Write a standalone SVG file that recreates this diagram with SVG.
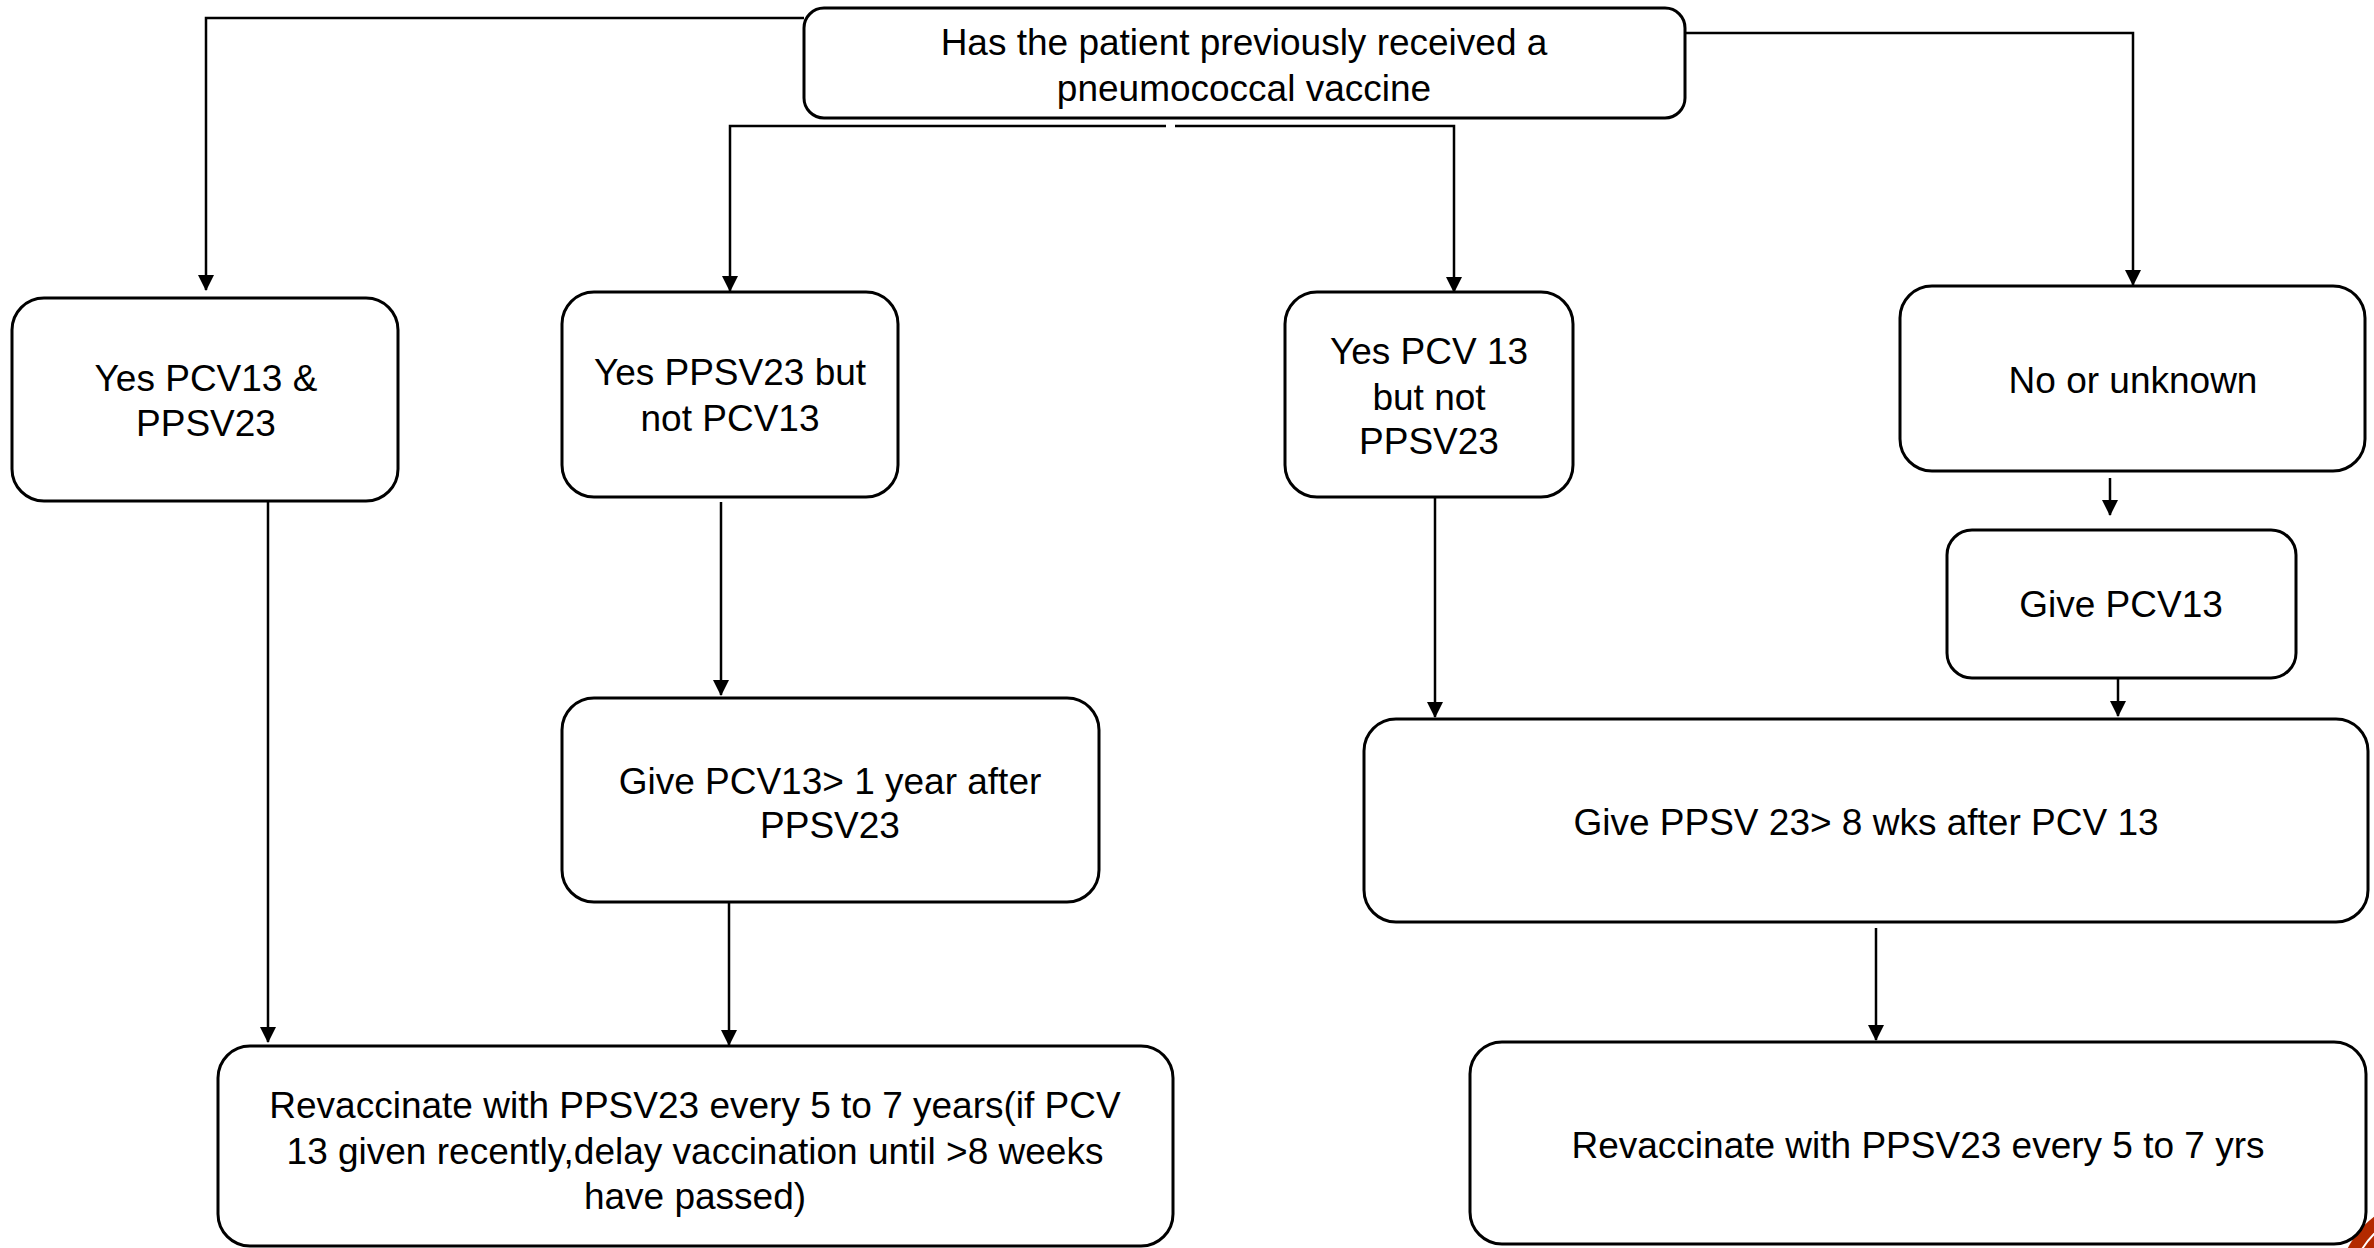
<svg xmlns="http://www.w3.org/2000/svg" width="2374" height="1248" viewBox="0 0 2374 1248">
<style>
.box{fill:#fff;stroke:#000;stroke-width:3}
.t{font-family:"Liberation Sans",Arial,sans-serif;font-size:37px;fill:#000;text-anchor:middle}
.c{fill:none;stroke:#000;stroke-width:2.5}
</style>
<defs>
<marker id="ah" markerWidth="16" markerHeight="16" refX="15" refY="8" orient="auto" markerUnits="userSpaceOnUse" viewBox="0 0 16 16">
<path d="M0,0 L16,8 L0,16 Z" fill="#000"/>
</marker>
</defs>
<rect width="2374" height="1248" fill="#fff"/>
<g id="decor">
<circle cx="2432" cy="1292" r="95" fill="#B32A00"/>
<circle cx="2432" cy="1292" r="82" fill="none" stroke="#fff" stroke-width="2"/>
</g>
<g id="connectors">
<polyline class="c" points="804,18 206,18 206,290" marker-end="url(#ah)"/>
<polyline class="c" points="1685,33 2133,33 2133,285" marker-end="url(#ah)"/>
<polyline class="c" points="1166,126 730,126 730,291" marker-end="url(#ah)"/>
<polyline class="c" points="1175,126 1454,126 1454,292" marker-end="url(#ah)"/>
<line class="c" x1="268" y1="501" x2="268" y2="1042" marker-end="url(#ah)"/>
<line class="c" x1="721" y1="502" x2="721" y2="695" marker-end="url(#ah)"/>
<line class="c" x1="729" y1="893" x2="729" y2="1045" marker-end="url(#ah)"/>
<line class="c" x1="1435" y1="497" x2="1435" y2="717" marker-end="url(#ah)"/>
<line class="c" x1="2110" y1="478" x2="2110" y2="515" marker-end="url(#ah)"/>
<line class="c" x1="2118" y1="678" x2="2118" y2="716" marker-end="url(#ah)"/>
<line class="c" x1="1876" y1="928" x2="1876" y2="1040" marker-end="url(#ah)"/>
</g>
<g id="n-top">
<rect class="box" x="804" y="8" width="881" height="110" rx="20"/>
<text class="t" x="1244" y="55">Has the patient previously received a</text>
<text class="t" x="1244" y="101">pneumococcal vaccine</text>
</g>
<g id="n-a">
<rect class="box" x="12" y="298" width="386" height="203" rx="32"/>
<text class="t" x="206" y="391">Yes PCV13 &amp;</text>
<text class="t" x="206" y="436">PPSV23</text>
</g>
<g id="n-b">
<rect class="box" x="562" y="292" width="336" height="205" rx="32"/>
<text class="t" x="730" y="385">Yes PPSV23 but</text>
<text class="t" x="730" y="431">not PCV13</text>
</g>
<g id="n-c">
<rect class="box" x="1285" y="292" width="288" height="205" rx="32"/>
<text class="t" x="1429" y="364">Yes PCV 13</text>
<text class="t" x="1429" y="410">but not</text>
<text class="t" x="1429" y="454">PPSV23</text>
</g>
<g id="n-d">
<rect class="box" x="1900" y="286" width="465" height="185" rx="32"/>
<text class="t" x="2133" y="393">No or unknown</text>
</g>
<g id="n-e">
<rect class="box" x="1947" y="530" width="349" height="148" rx="25"/>
<text class="t" x="2121" y="617">Give PCV13</text>
</g>
<g id="n-f">
<rect class="box" x="1364" y="719" width="1004" height="203" rx="32"/>
<text class="t" x="1866" y="835">Give PPSV 23&gt; 8 wks after PCV 13</text>
</g>
<g id="n-g">
<rect class="box" x="562" y="698" width="537" height="204" rx="32"/>
<text class="t" x="830" y="794">Give PCV13&gt; 1 year after</text>
<text class="t" x="830" y="838">PPSV23</text>
</g>
<g id="n-h">
<rect class="box" x="218" y="1046" width="955" height="200" rx="32"/>
<text class="t" x="695" y="1118">Revaccinate with PPSV23 every 5 to 7 years(if PCV</text>
<text class="t" x="695" y="1164">13 given recently,delay vaccination until &gt;8 weeks</text>
<text class="t" x="695" y="1209">have passed)</text>
</g>
<g id="n-i">
<rect class="box" x="1470" y="1042" width="896" height="202" rx="32"/>
<text class="t" x="1918" y="1158">Revaccinate with PPSV23 every 5 to 7 yrs</text>
</g>
</svg>
